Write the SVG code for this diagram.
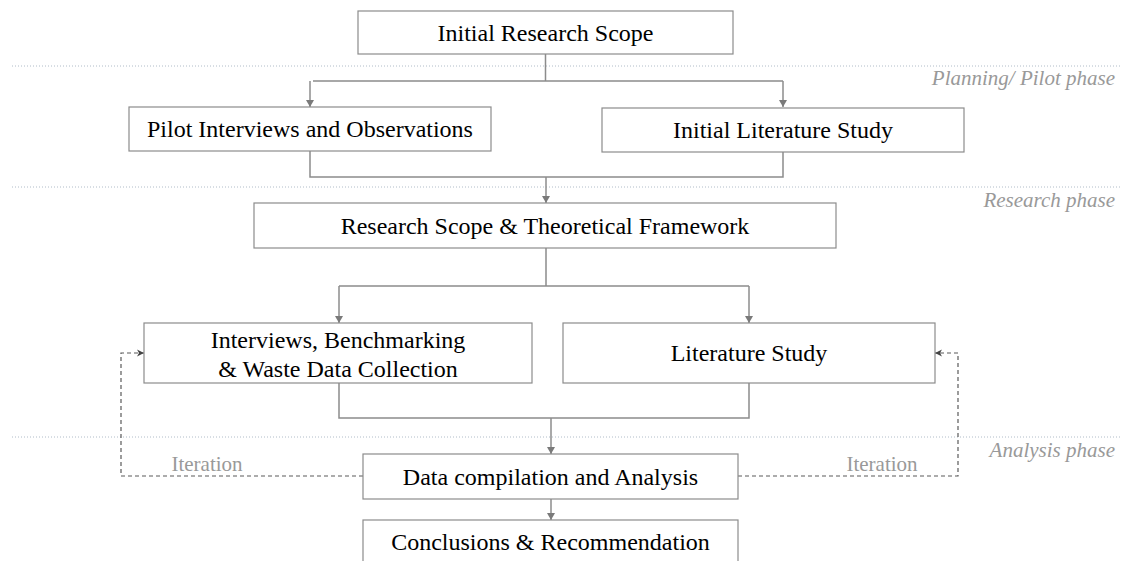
<svg xmlns="http://www.w3.org/2000/svg" width="1121" height="561" viewBox="0 0 1121 561">
<style>
.box{fill:#fff;stroke:#8c8c8c;stroke-width:1.2}
.t{font-family:"Liberation Serif","Times New Roman",serif;font-size:24px;fill:#000;text-anchor:middle}
.ph{font-family:"Liberation Serif","Times New Roman",serif;font-size:21px;font-style:italic;fill:#999;text-anchor:end}
.it{font-family:"Liberation Serif","Times New Roman",serif;font-size:21px;fill:#999;text-anchor:middle}
.dot{stroke:#b0bcc8;stroke-width:1;stroke-dasharray:1 2;fill:none}
.con{stroke:#8c8c8c;stroke-width:1.5;fill:none}
.dash{stroke:#5a5a5a;stroke-width:1.2;stroke-dasharray:4 3;fill:none}
</style>
<defs>
<marker id="ah" markerWidth="8" markerHeight="8" refX="7" refY="4" orient="auto" markerUnits="userSpaceOnUse">
<path d="M0,0 L7,4 L0,8 Z" fill="#7a7a7a"/>
</marker>
<marker id="ahd" markerWidth="8" markerHeight="8" refX="7" refY="4" orient="auto" markerUnits="userSpaceOnUse">
<path d="M0,0.5 L7,4 L0,7.5 L2,4 Z" fill="#444"/>
</marker>
</defs>
<rect width="1121" height="561" fill="#fff"/>
<g id="phases">
<line class="dot" x1="12" y1="66" x2="1121" y2="66"/>
<line class="dot" x1="12" y1="187" x2="1121" y2="187"/>
<line class="dot" x1="12" y1="437" x2="1121" y2="437"/>
<text class="ph" x="1115" y="85">Planning/ Pilot phase</text>
<text class="ph" x="1115" y="207">Research phase</text>
<text class="ph" x="1115" y="457">Analysis phase</text>
</g>
<g id="connectors">
<path class="con" d="M545.5,54 V81 M313,81 H783"/>
<path class="con" d="M310,81 V107" marker-end="url(#ah)"/>
<path class="con" d="M783,81 V107" marker-end="url(#ah)"/>
<path class="con" d="M310,151 V177 H783 V152"/>
<path class="con" d="M546,177 V203" marker-end="url(#ah)"/>
<path class="con" d="M546,248 V286 M339,286 H749"/>
<path class="con" d="M339,286 V323" marker-end="url(#ah)"/>
<path class="con" d="M749,286 V323" marker-end="url(#ah)"/>
<path class="con" d="M339,383 V418 H749 V383"/>
<path class="con" d="M551,418 V454" marker-end="url(#ah)"/>
<path class="con" d="M551,499 V520" marker-end="url(#ah)"/>
<path class="dash" d="M363,476 H121 V353 H144" marker-end="url(#ahd)"/>
<path class="dash" d="M738,476 H958 V353 H935" marker-end="url(#ahd)"/>
<text class="it" x="207" y="471">Iteration</text>
<text class="it" x="882" y="471">Iteration</text>
</g>
<g id="n1"><rect class="box" x="358" y="11" width="375" height="43"/><text class="t" x="545.5" y="41">Initial Research Scope</text></g>
<g id="n2"><rect class="box" x="129" y="107" width="362" height="44"/><text class="t" x="310" y="137">Pilot Interviews and Observations</text></g>
<g id="n3"><rect class="box" x="602" y="108" width="362" height="44"/><text class="t" x="783" y="138">Initial Literature Study</text></g>
<g id="n4"><rect class="box" x="254" y="203" width="582" height="45"/><text class="t" x="545" y="234">Research Scope &amp; Theoretical Framework</text></g>
<g id="n5"><rect class="box" x="144" y="323" width="388" height="60"/><text class="t" x="338" y="348">Interviews, Benchmarking</text><text class="t" x="338" y="377">&amp; Waste Data Collection</text></g>
<g id="n6"><rect class="box" x="563" y="323" width="372" height="60"/><text class="t" x="749" y="361">Literature Study</text></g>
<g id="n7"><rect class="box" x="363" y="454" width="375" height="45"/><text class="t" x="550.5" y="485">Data compilation and Analysis</text></g>
<g id="n8"><rect class="box" x="363" y="520" width="375" height="50"/><text class="t" x="550.5" y="550">Conclusions &amp; Recommendation</text></g>
</svg>
